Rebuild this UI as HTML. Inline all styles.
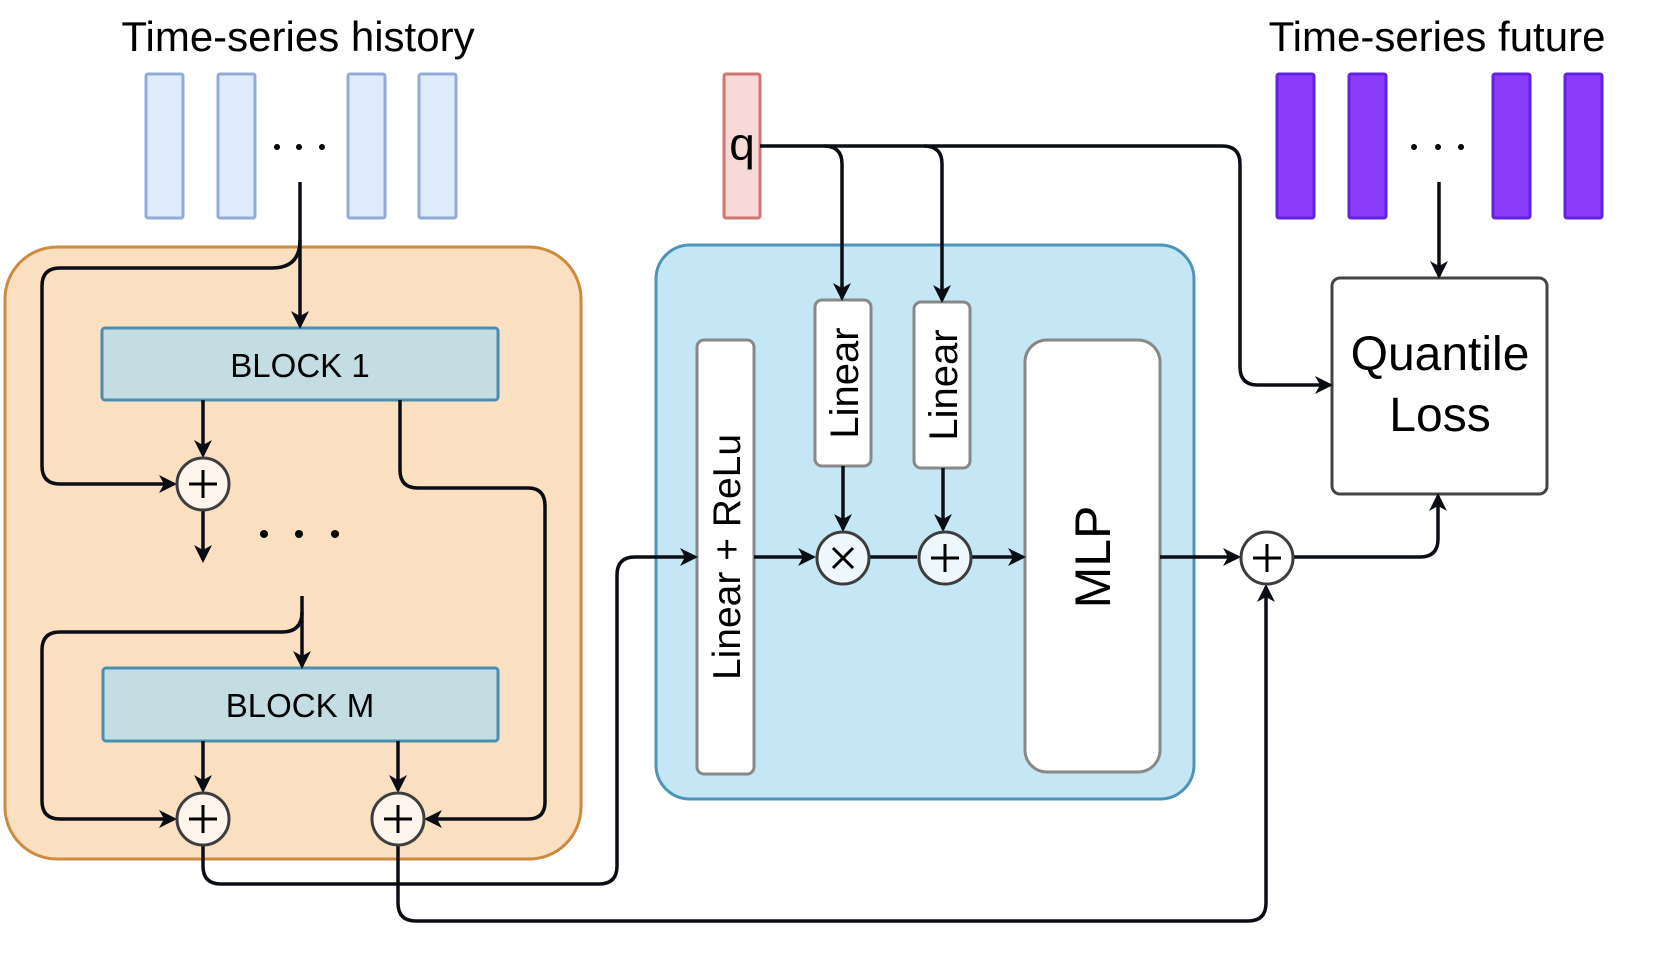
<!DOCTYPE html>
<html><head><meta charset="utf-8"><style>
html,body{margin:0;padding:0;background:#fff;}
svg{display:block;}
text{font-family:"Liberation Sans",sans-serif;fill:#000;}
</style></head><body>
<svg width="1661" height="958" viewBox="0 0 1661 958" xmlns="http://www.w3.org/2000/svg">
<defs>
<marker id="a" markerWidth="18" markerHeight="18" refX="15" refY="9" orient="auto" markerUnits="userSpaceOnUse" viewBox="0 0 18 18">
<path d="M0,0 L18,9 L0,18 L5,9 Z" fill="#0a0e14"/>
</marker>
</defs>
<text x="298" y="51" font-size="42" text-anchor="middle">Time-series history</text>
<text x="1437" y="51" font-size="42" text-anchor="middle">Time-series future</text>
<g fill="#dfebfa" stroke="#92abd4" stroke-width="3">
<rect x="146" y="74" width="37" height="144" rx="2"/>
<rect x="218" y="74" width="37" height="144" rx="2"/>
<rect x="348" y="74" width="37" height="144" rx="2"/>
<rect x="419" y="74" width="37" height="144" rx="2"/>
</g>
<g fill="#000"><circle cx="277" cy="147" r="3"/><circle cx="299" cy="147" r="3"/><circle cx="322" cy="147" r="3"/></g>
<g fill="#8c3cfd" stroke="#6123e0" stroke-width="3">
<rect x="1277" y="74" width="37" height="144" rx="2"/>
<rect x="1349" y="74" width="37" height="144" rx="2"/>
<rect x="1493" y="74" width="37" height="144" rx="2"/>
<rect x="1565" y="74" width="37" height="144" rx="2"/>
</g>
<g fill="#000"><circle cx="1414" cy="147" r="3"/><circle cx="1438" cy="147" r="3"/><circle cx="1461" cy="147" r="3"/></g>
<rect x="724" y="74" width="36" height="144" rx="2" fill="#f7d9d8" stroke="#cf7472" stroke-width="3"/>
<text x="742" y="160" font-size="46" text-anchor="middle">q</text>
<rect x="5" y="247" width="576" height="612" rx="52" fill="#fae0c1" stroke="#cc8a3c" stroke-width="3"/>
<rect x="656" y="245" width="538" height="554" rx="34" fill="#c5e6f5" stroke="#4c94b8" stroke-width="3"/>
<rect x="102" y="328" width="396" height="72" rx="3" fill="#c3dde2" stroke="#4a8fae" stroke-width="3"/>
<text x="300" y="377" font-size="33" text-anchor="middle">BLOCK 1</text>
<rect x="103" y="668" width="395" height="73" rx="3" fill="#c3dde2" stroke="#4a8fae" stroke-width="3"/>
<text x="300" y="717" font-size="33" text-anchor="middle">BLOCK M</text>
<rect x="697" y="340" width="57" height="434" rx="7" fill="#fff" stroke="#888" stroke-width="3"/>
<text transform="translate(740,557) rotate(-90)" font-size="39" text-anchor="middle">Linear + ReLu</text>
<rect x="815" y="300" width="56" height="166" rx="7" fill="#fff" stroke="#888" stroke-width="3"/>
<text transform="translate(858,383) rotate(-90)" font-size="40" text-anchor="middle">Linear</text>
<rect x="914" y="302" width="56" height="166" rx="7" fill="#fff" stroke="#888" stroke-width="3"/>
<text transform="translate(957,385) rotate(-90)" font-size="40" text-anchor="middle">Linear</text>
<rect x="1025" y="340" width="135" height="432" rx="22" fill="#fff" stroke="#888" stroke-width="3"/>
<text transform="translate(1110,557) rotate(-90)" font-size="50" text-anchor="middle">MLP</text>
<rect x="1332" y="278" width="215" height="216" rx="8" fill="#fff" stroke="#444" stroke-width="3"/>
<text x="1440" y="370" font-size="48" text-anchor="middle">Quantile</text>
<text x="1440" y="431" font-size="48" text-anchor="middle">Loss</text>
<g fill="none" stroke="#0a0e14" stroke-width="3.5">
<path d="M300 182 V326" marker-end="url(#a)"/>
<path d="M300 240 Q300 268 272 268 H60 Q42 268 42 286 V466 Q42 484 60 484 H174" marker-end="url(#a)"/>
<path d="M203 400 V455" marker-end="url(#a)"/>
<path d="M203 511 V560" marker-end="url(#a)"/>
<path d="M400 400 L400 470 Q400 488 418 488 H528 Q545 488 545 506 V802 Q545 819 528 819 H427" marker-end="url(#a)"/>
<path d="M302 596 V666" marker-end="url(#a)"/>
<path d="M302 612 Q302 632 282 632 H60 Q42 632 42 650 V801 Q42 819 60 819 H174" marker-end="url(#a)"/>
<path d="M203 741 V790" marker-end="url(#a)"/>
<path d="M398 741 V790" marker-end="url(#a)"/>
<path d="M203 846 V866 Q203 884 221 884 H599 Q617 884 617 866 V575 Q617 557 635 557 H695" marker-end="url(#a)"/>
<path d="M398 846 V903 Q398 921 416 921 H1248 Q1266 921 1266 903 V587" marker-end="url(#a)"/>
<path d="M754 557 H813" marker-end="url(#a)"/>
<path d="M870 557 H917"/>
<path d="M972 557 H1023" marker-end="url(#a)"/>
<path d="M1160 557 H1238" marker-end="url(#a)"/>
<path d="M1294 557 H1420 Q1438 557 1438 539 V496" marker-end="url(#a)"/>
<path d="M843 466 V529" marker-end="url(#a)"/>
<path d="M943 468 V529" marker-end="url(#a)"/>
<path d="M760 146 H824 Q842 146 842 164 V298" marker-end="url(#a)"/>
<path d="M824 146 H924 Q942 146 942 164 V300" marker-end="url(#a)"/>
<path d="M924 146 H1222 Q1240 146 1240 164 V367 Q1240 385 1258 385 H1330" marker-end="url(#a)"/>
<path d="M1439 182 V276" marker-end="url(#a)"/>
</g>
<g stroke="#3d3d3d" stroke-width="3">
<circle cx="203" cy="484" r="26" fill="#fdf5ec"/>
<circle cx="203" cy="819" r="26" fill="#fdf5ec"/>
<circle cx="398" cy="819" r="26" fill="#fdf5ec"/>
<circle cx="843" cy="558" r="26" fill="#eef8fc"/>
<circle cx="945" cy="558" r="26" fill="#eef8fc"/>
<circle cx="1267" cy="558" r="26" fill="#fff"/>
</g>
<g stroke="#000" stroke-width="3" fill="none">
<path d="M189 484 H217 M203 470 V498"/>
<path d="M189 819 H217 M203 805 V833"/>
<path d="M384 819 H412 M398 805 V833"/>
<path d="M833 548 L853 568 M853 548 L833 568"/>
<path d="M931 558 H959 M945 544 V572"/>
<path d="M1253 558 H1281 M1267 544 V572"/>
</g>
<g fill="#000"><circle cx="264" cy="534" r="4"/><circle cx="299" cy="534" r="4"/><circle cx="335" cy="534" r="4"/></g>
</svg>
</body></html>
